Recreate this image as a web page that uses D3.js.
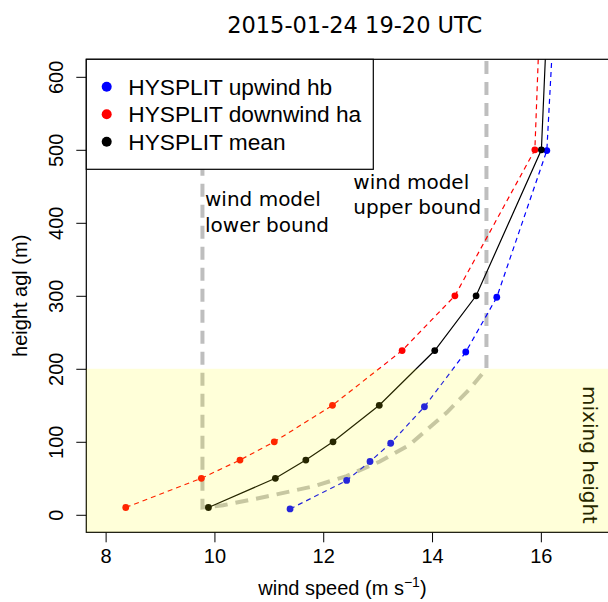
<!DOCTYPE html>
<html>
<head>
<meta charset="utf-8">
<script src="https://cdn.jsdelivr.net/npm/d3@7"></script>
<style>
  body { margin: 0; background: #fff; }
  svg { display: block; }
  .axis text { font-family: "Liberation Sans", Arial, sans-serif; font-size: 20px; fill: #000; }
  .axis line { stroke: #000; stroke-width: 1; }
</style>
</head>
<body>
<div id="chart"></div>
<script>
// HYSPLIT profiles (wind speed m/s at height agl m)
var heights = [10, 50, 75, 100, 150, 225, 300, 500, 1000];
var heightsUp = [8, 47, 73, 98, 148, 223, 298, 499, 1000];
var upwind = [11.39, 12.43, 12.86, 13.24, 13.86, 14.62, 15.19, 16.11, 16.47];
var downwind = [8.37, 9.76, 10.47, 11.10, 12.17, 13.45, 14.42, 15.89, 16.14];
var meanWind = [9.89, 11.12, 11.68, 12.18, 13.03, 14.05, 14.81, 16.01, 16.30];

// wind model bounds
var lowerBound = 9.78;
var modelHeights = [1000, 10, 13, 25, 39, 53, 73, 96, 140, 172, 200, 1000];
var modelSpeeds = [9.78, 9.78, 10.16, 10.96, 11.82, 12.43, 13.04, 13.59, 14.27, 14.69, 15.0, 15.0];
var mixingHeight = 200;

var xTicks = [8, 10, 12, 14, 16];
var yTicks = [0, 100, 200, 300, 400, 500, 600];

var legendLabels = ["HYSPLIT upwind hb", "HYSPLIT downwind ha", "HYSPLIT mean"];
var legendColors = ["#0000FF", "#FF0000", "#000000"];

function ProfileChart(){
  var width = 608, height = 602;
  var left = 86.3, right = 623, top = 59.3, bottom = 532.3;

  var x = d3.scaleLinear().domain([7.645, 17.51]).range([left, right]);
  var y = d3.scaleLinear().domain([-24, 624]).range([bottom, top]);

  var svg = d3.select("#chart").append("svg")
    .attr("width", width)
    .attr("height", height);

  svg.append("defs").append("clipPath").attr("id", "plot")
    .append("rect")
    .attr("x", left).attr("y", top)
    .attr("width", right - left).attr("height", bottom - top);

  var plot = svg.append("g").attr("clip-path", "url(#plot)");

  // wind model bounds
  var model = modelSpeeds.map(function(s, i){ return [s, modelHeights[i]]; });
  plot.append("path")
    .datum(model)
    .attr("fill", "none")
    .attr("stroke", "#BEBEBE")
    .attr("stroke-width", 4)
    .attr("stroke-dasharray", "13,8")
    .attr("d", d3.line()
      .x(function(d){ return x(d[0]); })
      .y(function(d){ return y(d[1]); }));

  // series
  var series = [
    {v: upwind, h: heightsUp, color: "#0000FF", dash: "5,4"},
    {v: downwind, h: heights, color: "#FF0000", dash: "5,4"},
    {v: meanWind, h: heights, color: "#000000", dash: null}
  ];
  series.forEach(function(s){
    var pts = s.v.map(function(v, i){ return [v, s.h[i]]; });
    plot.append("path")
      .datum(pts)
      .attr("fill", "none")
      .attr("stroke", s.color)
      .attr("stroke-width", 1.2)
      .attr("stroke-dasharray", s.dash)
      .attr("d", d3.line()
        .x(function(d){ return x(d[0]); })
        .y(function(d){ return y(d[1]); }));
    plot.selectAll(null)
      .data(pts)
      .enter().append("circle")
      .attr("cx", function(d){ return x(d[0]); })
      .attr("cy", function(d){ return y(d[1]); })
      .attr("r", 3.4)
      .attr("fill", s.color);
  });

  // axes
  var xAxis = svg.append("g")
    .attr("class", "axis")
    .attr("transform", "translate(0," + bottom + ")")
    .call(d3.axisBottom(x).tickValues(xTicks).tickSize(10).tickPadding(7));
  xAxis.select(".domain").remove();

  var yAxis = svg.append("g")
    .attr("class", "axis")
    .attr("transform", "translate(" + left + ",0)")
    .call(d3.axisLeft(y).tickValues(yTicks).tickSize(10));
  yAxis.select(".domain").remove();
  yAxis.selectAll(".tick text")
    .attr("x", null).attr("dy", null)
    .attr("text-anchor", "middle")
    .attr("transform", "translate(-23,0) rotate(-90)");

  // plot box
  svg.append("rect")
    .attr("x", left).attr("y", top)
    .attr("width", right - left).attr("height", bottom - top)
    .attr("fill", "none").attr("stroke", "#000").attr("stroke-width", 1.2);

  // legend
  var lg = svg.append("g");
  lg.append("rect")
    .attr("x", left).attr("y", top)
    .attr("width", 287).attr("height", 110)
    .attr("fill", "#fff").attr("stroke", "#000").attr("stroke-width", 1.2);
  legendLabels.forEach(function(l, i){
    var cy = 86.7 + i * 27.5;
    lg.append("circle").attr("cx", 106.7).attr("cy", cy).attr("r", 5).attr("fill", legendColors[i]);
    lg.append("text")
      .attr("x", 128.3).attr("y", cy + 8.2)
      .style("font-family", "'Liberation Sans', Arial, sans-serif")
      .style("font-size", "22.7px")
      .text(l);
  });

  // annotations
  var ann = svg.append("g")
    .style("font-family", "'DejaVu Sans', sans-serif")
    .style("font-size", "20px");
  ann.append("text").attr("x", 205).attr("y", 205.7).text("wind model");
  ann.append("text").attr("x", 205).attr("y", 231.7).text("lower bound");
  ann.append("text").attr("x", 353.3).attr("y", 189.3).text("wind model");
  ann.append("text").attr("x", 353.3).attr("y", 214.3).text("upper bound");

  // mixing layer shading
  svg.append("rect")
    .attr("x", left).attr("y", y(mixingHeight))
    .attr("width", right - left).attr("height", bottom - y(mixingHeight))
    .attr("fill", "#FFFF00").attr("fill-opacity", 0.15);

  ann.append("text")
    .attr("text-anchor", "middle")
    .attr("transform", "translate(583.3,455) rotate(90)")
    .text("mixing height");

  // title and axis labels
  svg.append("text")
    .attr("x", 354.7).attr("y", 33)
    .attr("text-anchor", "middle")
    .style("font-family", "'DejaVu Sans', sans-serif")
    .style("font-size", "22.5px")
    .text("2015-01-24 19-20 UTC");

  var xl = svg.append("text")
    .attr("x", 258.3).attr("y", 595)
    .style("font-family", "'Liberation Sans', Arial, sans-serif")
    .style("font-size", "20px");
  xl.append("tspan").text("wind speed (m s");
  xl.append("tspan").attr("dy", -8).style("font-size", "14px").text("\u22121");
  xl.append("tspan").attr("dy", 8).text(")");

  svg.append("text")
    .attr("text-anchor", "middle")
    .attr("transform", "translate(27,295.8) rotate(-90)")
    .style("font-family", "'Liberation Sans', Arial, sans-serif")
    .style("font-size", "20px")
    .text("height agl (m)");

  return svg;
}

ProfileChart();
</script>
</body>
</html>
